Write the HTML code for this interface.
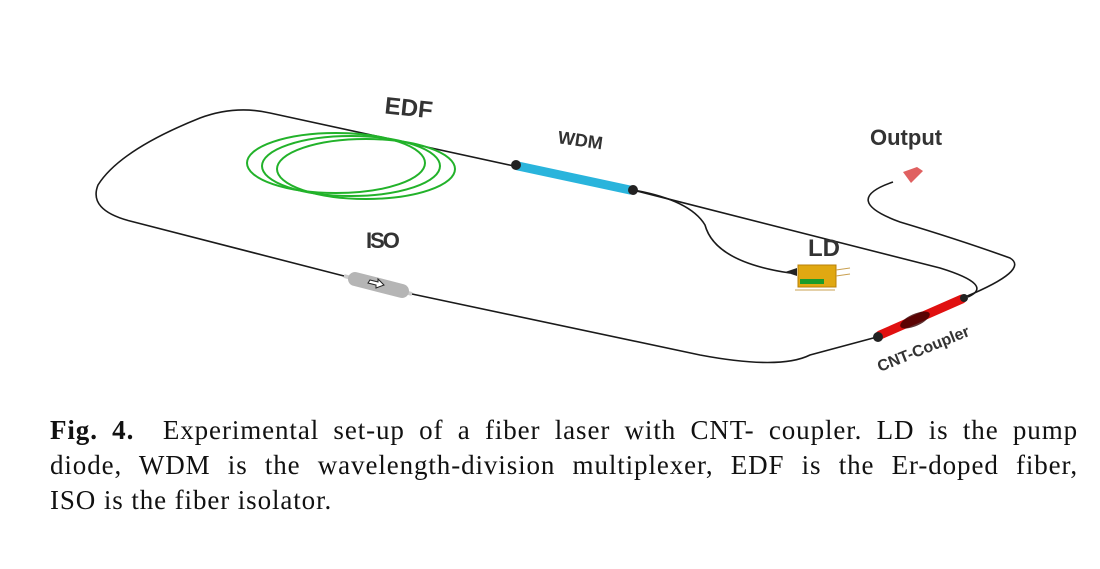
<!DOCTYPE html>
<html><head><meta charset="utf-8"><style>
body{margin:0;width:1100px;height:569px;background:#fff;overflow:hidden;position:relative}
svg{position:absolute;left:0;top:0}
.cap{position:absolute;left:50px;width:1028px;font-family:"Liberation Serif",serif;font-size:27px;letter-spacing:0.9px;line-height:35px;color:#111;text-align:justify;text-align-last:justify;white-space:nowrap}
.cap.l{text-align-last:left}
.lbl{font-family:"Liberation Sans",sans-serif;font-weight:bold;fill:#333}
</style></head><body>
<svg width="1100" height="400" viewBox="0 0 1100 400">
<g fill="none" stroke="#1a1a1a" stroke-width="1.6">
<path d="M514,166 L270,113 Q235,105 200,118 Q120,150 98,185 Q88,210 130,221 L344,276"/>
<path d="M412,294 L700,355 Q780,370 810,355 L877,337"/>
<path d="M633,190 L940,268 Q995,285 968,297"/>
<path d="M633,190 Q690,200 705,225 Q715,262 790,273"/>
<path d="M965,297 Q1030,270 1010,258 Q960,240 900,222 Q840,200 893,182"/>
</g>
<g fill="none" stroke="#22b22a" stroke-width="2">
<ellipse cx="336" cy="163" rx="89" ry="30"/>
<ellipse cx="351" cy="166" rx="89" ry="30"/>
<ellipse cx="366" cy="169" rx="89" ry="30"/>
</g>
<line x1="518" y1="166" x2="630" y2="190" stroke="#29b4dc" stroke-width="9" stroke-linecap="round"/>
<circle cx="516" cy="165" r="5" fill="#222"/><circle cx="633" cy="190" r="5" fill="#222"/>
<line x1="880" y1="335" x2="962" y2="299" stroke="#e01010" stroke-width="9" stroke-linecap="round"/>
<ellipse cx="915" cy="320" rx="16" ry="6" fill="#3a0000" opacity="0.8" transform="rotate(-24 915 320)"/>
<circle cx="878" cy="337" r="5" fill="#222"/><circle cx="964" cy="298" r="4" fill="#222"/>
<line x1="344" y1="276" x2="412" y2="294" stroke="#ccc" stroke-width="4"/>
<line x1="355" y1="279" x2="402" y2="291" stroke="#b5b5b5" stroke-width="14" stroke-linecap="round"/>
<path d="M370,280 l8,2 v-3 l6,6 l-8,3 v-3 l-8,-2z" fill="#fff" stroke="#222" stroke-width="1"/>
<path d="M785,272 l12,-4 v8z" fill="#222"/>
<rect x="798" y="265" width="38" height="22" fill="#e0a812" stroke="#b88008"/>
<rect x="800" y="279" width="24" height="5" fill="#1a9c2a"/>
<g stroke="#c9a050" stroke-width="1"><line x1="795" y1="290" x2="835" y2="290"/><line x1="836" y1="270" x2="850" y2="268"/><line x1="836" y1="276" x2="850" y2="274"/></g>
<path d="M903,172 l14,-5 l6,4 l-12,12z" fill="#e06060"/>
<text class="lbl" x="385" y="115" font-size="24" transform="rotate(6 400 105)">EDF</text>
<text class="lbl" x="558" y="147" font-size="18" transform="rotate(8 585 140)">WDM</text>
<text class="lbl" x="870" y="145" font-size="22">Output</text>
<text class="lbl" x="808" y="256" font-size="24">LD</text>
<text class="lbl" x="366" y="248" font-size="22" letter-spacing="-2">ISO</text>
<text class="lbl" x="880" y="372" font-size="16" transform="rotate(-22 880 372)">CNT-Coupler</text>
</svg>
<div class="cap" style="top:413px"><b>Fig. 4.</b>&nbsp; Experimental set-up of a fiber laser with CNT- coupler. LD is the pump</div>
<div class="cap" style="top:448px">diode, WDM is the wavelength-division multiplexer, EDF is the Er-doped fiber,</div>
<div class="cap l" style="top:483px">ISO is the fiber isolator.</div>
</body></html>
